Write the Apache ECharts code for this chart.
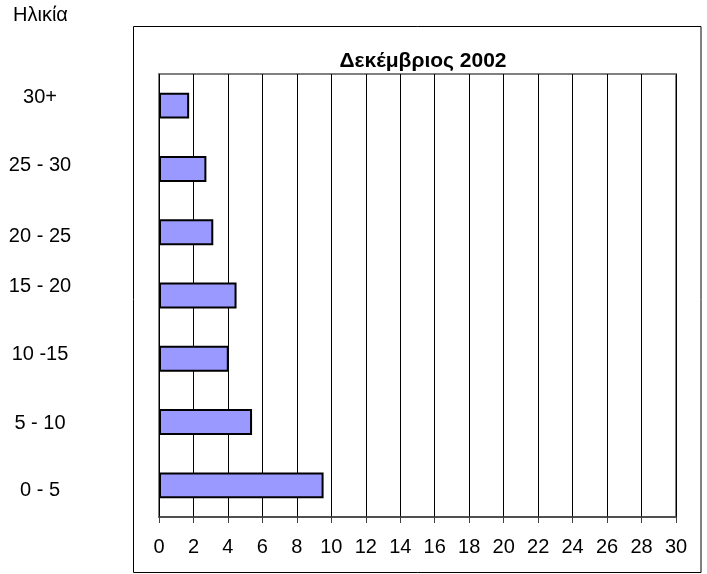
<!DOCTYPE html>
<html lang="el">
<head>
    <meta charset="UTF-8">
    <title>Ηλικία - Δεκέμβριος 2002</title>
    <style>
        *{
            padding:0;
            margin:0;
        }
        html, body{
            height:100%;
            width:100%;
            background:#fff;
        }
        #main{
            width:707px;
            height:574px;
        }
    </style>
    <script src="https://cdn.jsdelivr.net/npm/echarts@6/dist/echarts.min.js"></script>
</head>
<body>
<div id="main"></div>
<script>
    // age groups, bottom to top
    var categories = ['0 - 5', '5 - 10', '10 -15', '15 - 20', '20 - 25', '25 - 30', '30+'];
    var values = [9.55, 5.4, 4.05, 4.5, 3.15, 2.75, 1.75];
    // vertical nudge of each age label (px, negative = up)
    var labelNudge = [5, 1, -4, -9, 4, -3, -8];
    var xTicks = [0, 30, 2];

    var font = '"Liberation Sans", Arial, sans-serif';

    var rich = {};
    for (var i = 0; i < categories.length; i++) {
        var d = labelNudge[i];
        rich['n' + i] = {
            fontFamily: font,
            fontSize: 20,
            color: '#000',
            padding: d < 0 ? [0, 0, -2 * d, 0] : [2 * d, 0, 0, 0]
        };
    }

    var myChart = echarts.init(document.getElementById('main'));
    var option = {
        backgroundColor: '#fff',
        animation: false,
        title: {
            text: 'Δεκέμβριος 2002',
            left: 418,
            top: 46,
            textAlign: 'center',
            textStyle: {
                fontFamily: font,
                fontSize: 21,
                fontWeight: 'bold',
                color: '#000'
            }
        },
        graphic: [
            {
                type: 'rect',
                shape: {x: 133.5, y: 26.5, width: 567.5, height: 546},
                style: {fill: 'none', stroke: '#000', lineWidth: 1},
                z: -1
            },
            {
                type: 'text',
                left: 13,
                top: 5,
                style: {
                    text: 'Ηλικία',
                    fontFamily: font,
                    fontSize: 20,
                    fill: '#000'
                }
            }
        ],
        grid: {
            left: 159,
            top: 74,
            width: 517,
            height: 443,
            show: true,
            borderColor: '#808080',
            borderWidth: 2,
            containLabel: false
        },
        xAxis: {
            type: 'value',
            min: xTicks[0],
            max: xTicks[1],
            interval: xTicks[2],
            axisLine: {
                show: true,
                lineStyle: {color: '#404040', width: 1.5}
            },
            axisTick: {
                show: true,
                length: 6,
                lineStyle: {color: '#404040'}
            },
            axisLabel: {
                margin: 20,
                fontFamily: font,
                fontSize: 20,
                color: '#000'
            },
            splitLine: {
                show: true,
                lineStyle: {color: '#000', width: 1}
            }
        },
        yAxis: {
            type: 'category',
            data: categories,
            axisLine: {show: false},
            axisTick: {show: false},
            axisLabel: {
                margin: 119,
                align: 'center',
                formatter: function (v, idx) {
                    return '{n' + idx + '|' + v + '}';
                },
                rich: rich
            }
        },
        series: [{
            type: 'bar',
            data: values,
            barCategoryGap: '59%',
            itemStyle: {
                color: '#9999ff',
                borderColor: '#000',
                borderWidth: 2
            }
        }]
    };
    myChart.setOption(option);
</script>
</body>
</html>
